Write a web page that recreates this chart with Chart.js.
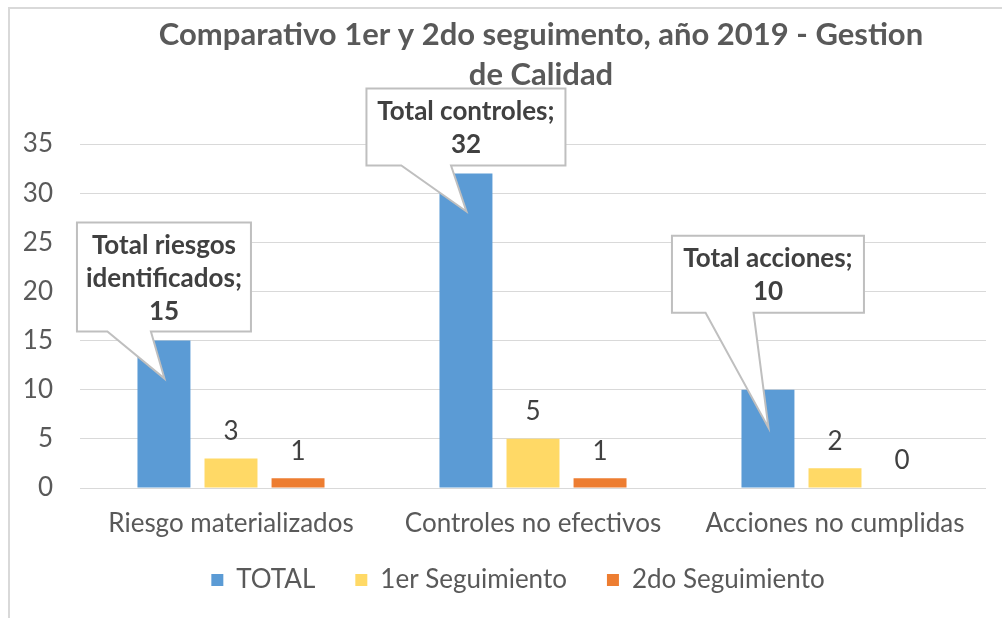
<!DOCTYPE html>
<html>
<head>
<meta charset="utf-8">
<script src="https://cdn.jsdelivr.net/npm/chart.js@4"></script>
<style>
  html, body { margin: 0; padding: 0; background: #fff; }
  #wrap { position: relative; width: 1002px; height: 618px; }
</style>
</head>
<body>
<div id="wrap"><canvas id="chart" width="1002" height="618"></canvas></div>
<script>
// ===== Data =====
const categories = ["Riesgo materializados", "Controles no efectivos", "Acciones no cumplidas"];
const seriesNames = ["TOTAL", "1er Seguimiento", "2do Seguimiento"];
const totalValues = [15, 32, 10];
const primerValues = [3, 5, 2];
const segundoValues = [1, 1, 0];
const calloutNames = [["Total riesgos", "identificados;"], ["Total controles;"], ["Total acciones;"]];
const titleLines = ["Comparativo 1er y 2do seguimento, año 2019 - Gestion", "de Calidad"];
const yMax = 35;
const yStep = 5;

const colors = ["#5B9BD5", "#FFD966", "#ED7D31"];
const FONT = "Lato, 'Open Sans', sans-serif";

// ===== Plugins =====

// light frame on top and left like the pasted image
const framePlugin = {
  id: "frame",
  beforeDraw(chart) {
    const ctx = chart.ctx;
    ctx.save();
    ctx.fillStyle = "#fff";
    ctx.fillRect(0, 0, chart.width, chart.height);
    ctx.fillStyle = "#d9d9d9";
    ctx.fillRect(8, 7, chart.width - 8, 2);
    ctx.fillRect(8, 7, 2, chart.height - 7);
    ctx.restore();
  }
};

const titlePlugin = {
  id: "customTitle",
  afterDraw(chart) {
    const ctx = chart.ctx;
    ctx.save();
    ctx.font = "bold 31px " + FONT;
    ctx.fillStyle = "#595959";
    ctx.textAlign = "center";
    ctx.textBaseline = "middle";
    ctx.fillText(titleLines[0], 541, 35);
    ctx.fillText(titleLines[1], 541, 75);
    ctx.restore();
  }
};

// value labels + callouts for the TOTAL series
const calloutStyle = [
  { w: 174, h: 109, lift: 9 },
  { w: 199, h: 77, lift: 8 },
  { w: 192, h: 77, lift: 77 }
];

const labelPlugin = {
  id: "valueLabels",
  afterDatasetsDraw(chart) {
    const ctx = chart.ctx;
    ctx.save();
    ctx.textAlign = "center";
    ctx.textBaseline = "middle";

    // plain labels above bars
    ctx.font = "26px " + FONT;
    ctx.fillStyle = "#404040";
    [1, 2].forEach(di => {
      const ds = chart.data.datasets[di];
      chart.getDatasetMeta(di).data.forEach((bar, i) => {
        ctx.fillText(String(ds.data[i]), bar.x, bar.y - 27);
      });
    });

    // callouts
    chart.getDatasetMeta(0).data.forEach((bar, i) => {
      const st = calloutStyle[i];
      const lines = calloutNames[i].concat([String(totalValues[i])]);
      const bottom = bar.y - st.lift;
      const top = bottom - st.h;
      const left = bar.x - st.w / 2;
      const right = left + st.w;
      const tipX = bar.x + 0.5;
      const tipY = bar.y + 38;
      ctx.beginPath();
      ctx.moveTo(left, top);
      ctx.lineTo(right, top);
      ctx.lineTo(right, bottom);
      ctx.lineTo(left + st.w * 0.425, bottom);
      ctx.lineTo(tipX, tipY);
      ctx.lineTo(left + st.w * 0.175, bottom);
      ctx.lineTo(left, bottom);
      ctx.closePath();
      ctx.fillStyle = "#fff";
      ctx.fill();
      ctx.lineWidth = 2;
      ctx.strokeStyle = "#bfbfbf";
      ctx.stroke();

      ctx.font = "bold 26px " + FONT;
      ctx.fillStyle = "#404040";
      lines.forEach((t, k) => {
        ctx.fillText(t, bar.x, top + 23 + k * 33);
      });
    });
    ctx.restore();
  }
};

// tick labels may spill outside the scale box (y labels into the left padding)
function noLabelClip(scale) {
  scale._computeLabelArea = () => undefined;
}

// ===== Chart =====
const ctx = document.getElementById("chart").getContext("2d");
new Chart(ctx, {
  type: "bar",
  data: {
    labels: categories,
    datasets: [
      { label: seriesNames[0], data: totalValues, backgroundColor: colors[0] },
      { label: seriesNames[1], data: primerValues, backgroundColor: colors[1] },
      { label: seriesNames[2], data: segundoValues, backgroundColor: colors[2] }
    ]
  },
  options: {
    responsive: false,
    animation: false,
    devicePixelRatio: 1,
    categoryPercentage: 0.666,
    barPercentage: 0.79,
    layout: { padding: { top: 144, right: 16, left: 50, bottom: 15 } },
    plugins: {
      title: { display: false },
      tooltip: { enabled: false },
      legend: {
        position: "bottom",
        labels: {
          boxWidth: 12,
          boxHeight: 12,
          padding: 40,
          color: "#595959",
          font: { family: FONT, size: 26 }
        }
      }
    },
    scales: {
      x: {
        grid: { display: false, drawTicks: false },
        border: { display: false },
        ticks: { color: "#595959", padding: 20, font: { family: FONT, size: 26 }, maxRotation: 0 },
        afterFit(scale) { scale.height = 39; },
        afterUpdate: noLabelClip
      },
      y: {
        min: 0,
        max: yMax,
        grid: { color: "#d9d9d9", drawTicks: false, lineWidth: 1 },
        border: { display: false },
        ticks: { stepSize: yStep, color: "#595959", padding: 27, font: { family: FONT, size: 26 } },
        afterFit(scale) { scale.width = 30; },
        afterUpdate: noLabelClip
      }
    }
  },
  plugins: [framePlugin, titlePlugin, labelPlugin]
});
</script>
</body>
</html>
